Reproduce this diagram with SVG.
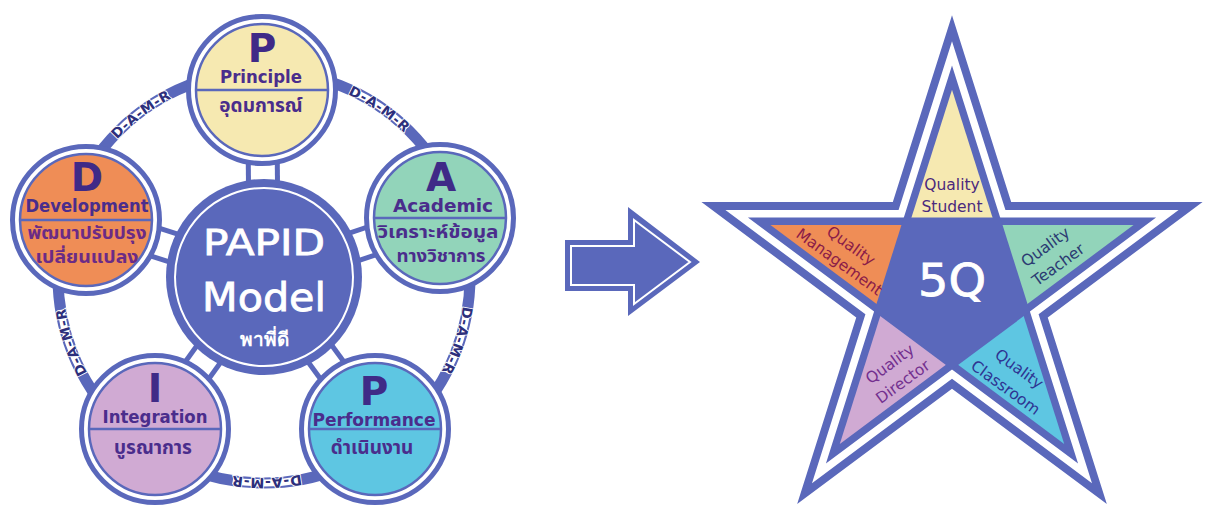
<svg xmlns="http://www.w3.org/2000/svg" width="1208" height="511" viewBox="0 0 1208 511">
<style>
.ring{fill:#fff;stroke:#5a68bb;stroke-width:5}
.inner{stroke:#5a68bb;stroke-width:2.5}
.div{stroke:#5a68bb;stroke-width:2.5}
.blue{fill:#5a68bb}
.big{font-family:"DejaVu Sans","Liberation Sans",sans-serif;font-weight:bold;font-size:39px;fill:#3f2a87;text-anchor:middle}
.en{font-family:"DejaVu Sans","Liberation Sans",sans-serif;font-weight:bold;font-size:17px;fill:#4a2d8c;text-anchor:middle}
.th{font-family:"Noto Sans Thai","Noto Sans","DejaVu Sans",sans-serif;font-weight:bold;font-size:19px;fill:#4a2d8c;text-anchor:middle}
.th2{font-size:17px}
.damr{font-family:"DejaVu Sans","Liberation Sans",sans-serif;font-weight:bold;font-size:14px;letter-spacing:0.6px;fill:#2d2f7c;stroke:#fff;stroke-width:1.6;paint-order:stroke;text-anchor:middle}
.gap{fill:none;stroke:#fff;stroke-width:7}
.q{font-family:"DejaVu Sans","Liberation Sans",sans-serif;font-size:15.5px;text-anchor:middle}
.w{fill:#fff;font-family:"DejaVu Sans","Liberation Sans",sans-serif;text-anchor:middle}
</style>
<defs>
<path id="ringpath" d="M465,277 A201,201 0 1 1 63,277 A201,201 0 1 1 465,277"/>
</defs>
<rect width="1208" height="511" fill="#fff"/>

<g id="connectors">
<g stroke="#5a68bb" stroke-width="34">
<line x1="264" y1="277" x2="262" y2="90"/>
<line x1="264" y1="277" x2="440" y2="218"/>
<line x1="264" y1="277" x2="375" y2="429"/>
<line x1="264" y1="277" x2="155" y2="429"/>
<line x1="264" y1="277" x2="86" y2="220"/>
</g>
<g stroke="#fff" stroke-width="24">
<line x1="264" y1="277" x2="262" y2="90"/>
<line x1="264" y1="277" x2="440" y2="218"/>
<line x1="264" y1="277" x2="375" y2="429"/>
<line x1="264" y1="277" x2="155" y2="429"/>
<line x1="264" y1="277" x2="86" y2="220"/>
</g>
<circle cx="264" cy="277" r="206" fill="none" stroke="#5a68bb" stroke-width="11"/>
<path class="gap" d="M114.3,135.5 A206,206 0 0 1 168.6,94.4"/>
<path class="gap" d="M350.7,90.2 A206,206 0 0 1 406.8,128.6"/>
<path class="gap" d="M467.6,308.2 A206,206 0 0 1 446.4,372.7"/>
<path class="gap" d="M300.8,479.7 A206,206 0 0 1 232.8,480.6"/>
<path class="gap" d="M82.5,374.4 A206,206 0 0 1 60.7,309.9"/>
<text class="damr"><textPath href="#ringpath" startOffset="817">D-A-M-R</textPath></text>
<text class="damr"><textPath href="#ringpath" startOffset="1068">D-A-M-R</textPath></text>
<text class="damr"><textPath href="#ringpath" startOffset="64">D-A-M-R</textPath></text>
<text class="damr"><textPath href="#ringpath" startOffset="313">D-A-M-R</textPath></text>
<text class="damr"><textPath href="#ringpath" startOffset="566">D-A-M-R</textPath></text>
</g>

<g id="node-papid">
<circle cx="264" cy="277" r="98" class="blue"/>
<circle cx="264" cy="277" r="89" fill="none" stroke="#fff" stroke-width="2"/>
<text class="w" x="264" y="255" font-size="36" stroke="#fff" stroke-width="0.8" textLength="122" lengthAdjust="spacingAndGlyphs">PAPID</text>
<text class="w" x="264" y="311" font-size="39" stroke="#fff" stroke-width="0.8" textLength="124" lengthAdjust="spacingAndGlyphs">Model</text>
<text class="w" x="264" y="346" font-size="19" font-weight="bold" font-family="'Noto Sans Thai','DejaVu Sans',sans-serif">พาพี่ดี</text>
</g>

<g id="node-principle">
<circle cx="262" cy="90" r="73.5" class="ring"/>
<circle cx="262" cy="90" r="66" fill="#f6e9b1" class="inner"/>
<line x1="196" y1="90" x2="328" y2="90" class="div"/>
<text class="big" x="262" y="62">P</text>
<text class="en" x="261" y="83" textLength="82" lengthAdjust="spacingAndGlyphs">Principle</text>
<text class="th" x="261" y="112">อุดมการณ์</text>
</g>

<g id="node-academic">
<circle cx="440" cy="218" r="73.5" class="ring"/>
<circle cx="440" cy="218" r="66" fill="#92d4ba" class="inner"/>
<line x1="374" y1="218" x2="506" y2="218" class="div"/>
<text class="big" x="441" y="191">A</text>
<text class="en" x="443" y="212" textLength="100" lengthAdjust="spacingAndGlyphs">Academic</text>
<text class="th th2" x="438" y="238" textLength="121" lengthAdjust="spacingAndGlyphs">วิเคราะห์ข้อมูล</text>
<text class="th th2" x="441" y="262" textLength="89" lengthAdjust="spacingAndGlyphs">ทางวิชาการ</text>
</g>

<g id="node-performance">
<circle cx="375" cy="429" r="73.5" class="ring"/>
<circle cx="375" cy="429" r="66" fill="#5ec6e2" class="inner"/>
<line x1="309" y1="429" x2="441" y2="429" class="div"/>
<text class="big" x="374" y="405">P</text>
<text class="en" x="374" y="426" textLength="123" lengthAdjust="spacingAndGlyphs">Performance</text>
<text class="th" x="372" y="454">ดำเนินงาน</text>
</g>

<g id="node-integration">
<circle cx="155" cy="429" r="73.5" class="ring"/>
<circle cx="155" cy="429" r="66" fill="#d0aad3" class="inner"/>
<line x1="89" y1="429" x2="221" y2="429" class="div"/>
<text class="big" x="155" y="402">I</text>
<text class="en" x="155" y="423" textLength="105" lengthAdjust="spacingAndGlyphs">Integration</text>
<text class="th" x="153" y="454">บูรณาการ</text>
</g>

<g id="node-development">
<circle cx="86" cy="220" r="73.5" class="ring"/>
<circle cx="86" cy="220" r="66" fill="#ef8d56" class="inner"/>
<line x1="20" y1="220" x2="152" y2="220" class="div"/>
<text class="big" x="87" y="191">D</text>
<text class="en" x="87" y="212" textLength="123" lengthAdjust="spacingAndGlyphs">Development</text>
<text class="th th2" x="87" y="239" style="fill:#6b2b86" textLength="119" lengthAdjust="spacingAndGlyphs">พัฒนาปรับปรุง</text>
<text class="th th2" x="87" y="263" style="fill:#6b2b86" textLength="103" lengthAdjust="spacingAndGlyphs">เปลี่ยนแปลง</text>
</g>

<g id="arrow">
<path d="M565,240 H628 V207 L700,262 L628,316 V291 H565 Z" fill="#5a68bb"/>
<path d="M571,246 H634 V220 L690,262 L634,304 V285 H571 Z" fill="none" stroke="#fff" stroke-width="2"/>
</g>

<g id="star">
<g transform="translate(952,285.5) scale(0.975,1)">
<polygon points="0,-270.2 60.7,-83.5 257,-83.5 98.2,31.9 158.8,218.6 0,103.2 -158.8,218.6 -98.2,31.9 -257,-83.5 -60.7,-83.5" fill="#5a68bb"/>
<polygon points="0,-244.3 54.8,-75.5 232.4,-75.5 88.8,28.8 143.6,197.7 0,93.3 -143.6,197.7 -88.8,28.8 -232.4,-75.5 -54.8,-75.5" fill="#fff"/>
<polygon points="0,-220.1 49.4,-68 209.3,-68 79.9,26 129.3,178 0,84.1 -129.3,178 -79.9,26 -209.3,-68 -49.4,-68" fill="#5a68bb"/>
<polygon id="arm-student" points="0,-195.8 44,-60.5 -44,-60.5" fill="#f6e9b1"/>
<polygon id="arm-teacher" points="186.2,-60.5 71.1,23.1 44,-60.5" fill="#92d4ba"/>
<polygon id="arm-classroom" points="115.1,158.4 0,74.8 71.1,23.1" fill="#5ec6e2"/>
<polygon id="arm-director" points="-115.1,158.4 -71.1,23.1 0,74.8" fill="#d0aad3"/>
<polygon id="arm-management" points="-186.2,-60.5 -44,-60.5 -71.1,23.1" fill="#ef8d56"/>
<polygon id="center-pentagon" points="-49.4,-68 49.4,-68 79.9,26 0,84.1 -79.9,26" fill="#5a68bb"/>
</g>
</g>

<g id="node-5q">
<text class="w" x="952" y="296" font-size="45" stroke="#fff" stroke-width="0.8" textLength="68" lengthAdjust="spacingAndGlyphs">5Q</text>
</g>
<g id="node-student" class="q" fill="#4b2a7d">
<text x="952" y="190">Quality</text>
<text x="952" y="212">Student</text>
</g>
<g id="node-management" class="q" fill="#8b1c48" transform="translate(845,254) rotate(36)">
<text x="0" y="-5">Quality</text>
<text x="0" y="15">Management</text>
</g>
<g id="node-teacher" class="q" fill="#2b3b72" transform="translate(1052,256) rotate(-36)">
<text x="0" y="-6">Quality</text>
<text x="0" y="16">Teacher</text>
</g>
<g id="node-director" class="q" fill="#73308f" transform="translate(896.5,373) rotate(-36)">
<text x="0" y="-6">Quality</text>
<text x="0" y="16">Director</text>
</g>
<g id="node-classroom" class="q" fill="#2e3592" transform="translate(1012.5,378) rotate(36)">
<text x="0" y="-6">Quality</text>
<text x="0" y="17">Classroom</text>
</g>
</svg>
